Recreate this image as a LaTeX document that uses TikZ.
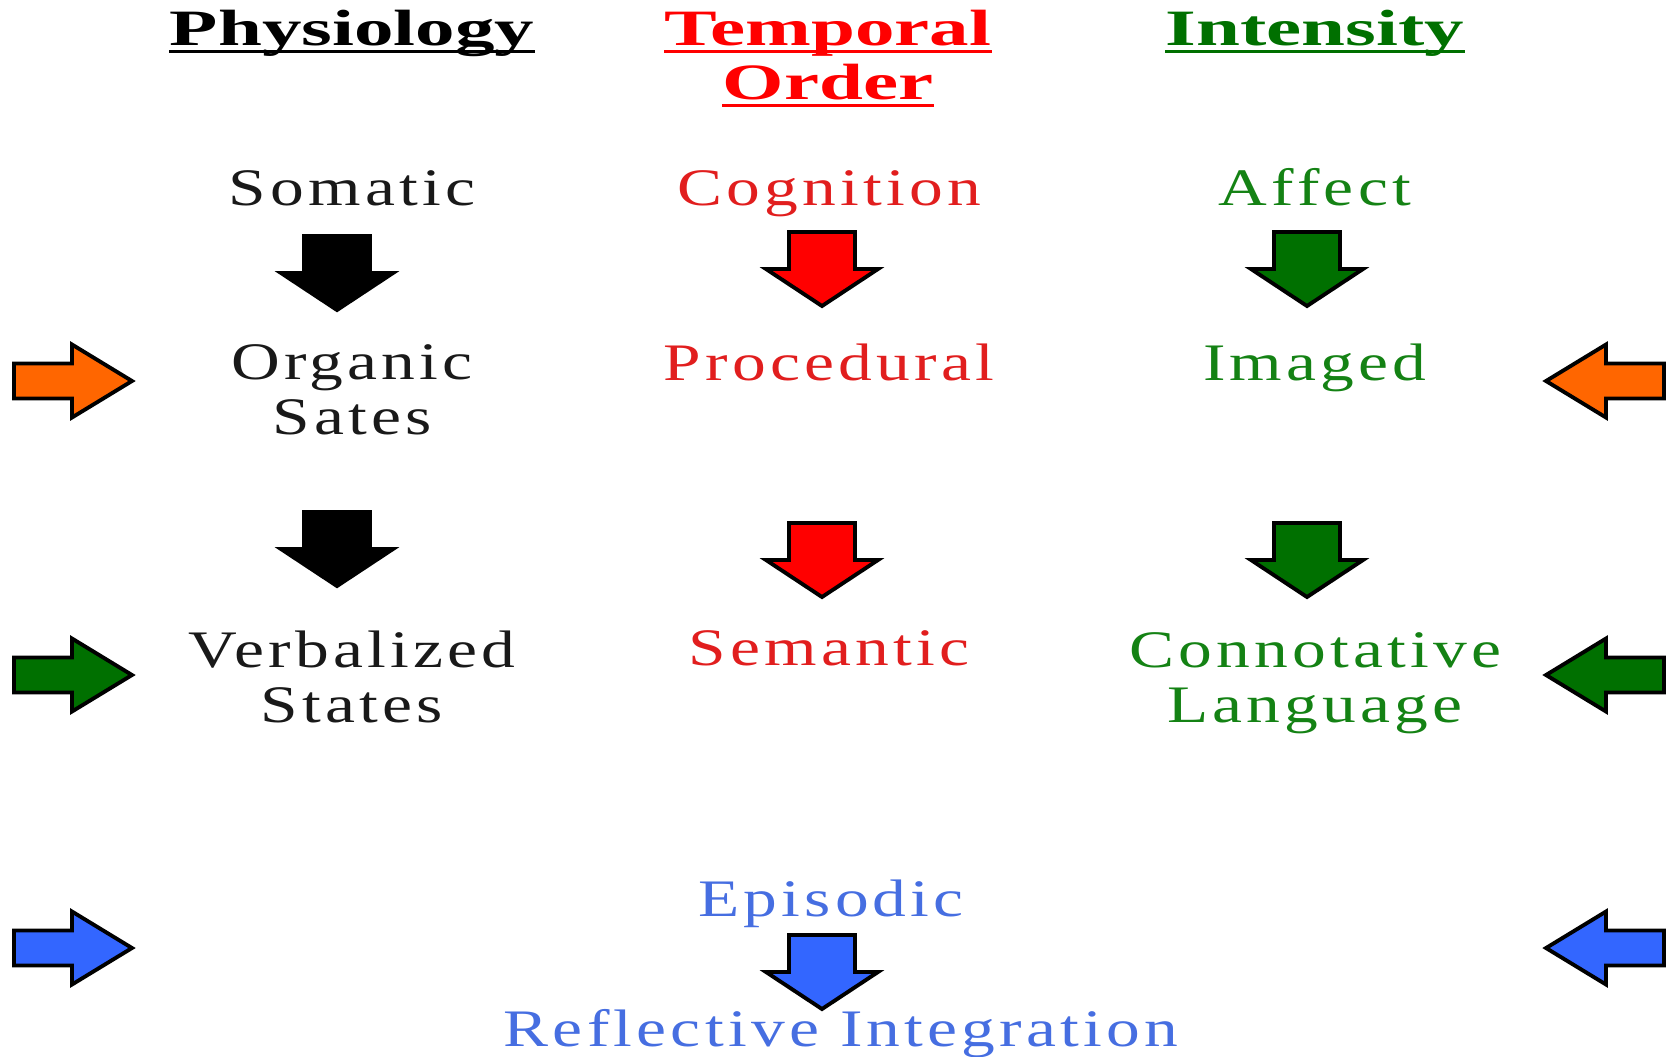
\documentclass[tikz,border=0pt]{standalone}
\usepackage{fontspec}
\usepackage{tikz}

\newfontfamily\headfont{Liberation Serif}[FakeStretch=1.55]
\newfontfamily\bodyfont{Liberation Serif}[FakeStretch=1.28, LetterSpace=8]

\definecolor{arrred}{RGB}{255,0,0}
\definecolor{arrgreen}{RGB}{0,112,0}
\definecolor{arrorange}{RGB}{255,102,0}
\definecolor{arrblue}{RGB}{51,102,255}
\definecolor{txtred}{RGB}{225,30,30}
\definecolor{txtgreen}{RGB}{20,130,20}
\definecolor{txtblue}{RGB}{70,110,225}
\definecolor{txtblack}{RGB}{25,25,25}

\tikzset{
    head/.style={font=\headfont\bfseries\fontsize{14.5}{17}\selectfont, inner sep=0pt, anchor=base},
    item/.style={font=\bodyfont\fontsize{15}{15.4}\selectfont, inner sep=0pt, anchor=base, align=center},
    pics/downarr/.style={code={
        \filldraw[fill=#1, draw=black, line width=1.1pt]
            (-0.33, 0.37) -- (0.33, 0.37) -- (0.33, 0)
            -- (0.56, 0) -- (0, -0.37) -- (-0.56, 0)
            -- (-0.33, 0) -- cycle;
    }},
    pics/sidearr/.style={code={
        \filldraw[fill=#1, draw=black, line width=1.1pt]
            (-0.58, 0.175) -- (0, 0.175) -- (0, 0.365)
            -- (0.6, 0) -- (0, -0.365) -- (0, -0.175)
            -- (-0.58, -0.175) -- cycle;
    }},
}

\begin{document}
\begin{tikzpicture}
    \useasboundingbox (0, 0) rectangle (16.66, -10.56);

    % headings
    \node[head, text=black] (phys) at (3.52, -0.45) {Physiology};
    \node[head, text=arrred] (temp) at (8.28, -0.45) {Temporal};
    \node[head, text=arrred] (order) at (8.28, -0.99) {Order};
    \node[head, text=arrgreen] (inten) at (13.15, -0.45) {Intensity};
    \foreach \n/\c in {phys/black, temp/arrred, order/arrred, inten/arrgreen} {
        \draw[\c, line width=0.9pt]
            ([yshift=-1.8pt]\n.base west) -- ([yshift=-1.8pt]\n.base east);
    }

    % first row
    \node[item, text=txtblack] (soma) at (3.52, -2.05) {Somatic};
    \node[item, text=txtred] (cogn) at (8.29, -2.05) {Cognition};
    \node[item, text=txtgreen] (affe) at (13.15, -2.05) {Affect};

    % second row
    \node[item, text=txtblack] (orga) at (3.52, -4.34) {Organic\\Sates};
    \node[item, text=txtred] (proc) at (8.29, -3.80) {Procedural};
    \node[item, text=txtgreen] (imag) at (13.15, -3.80) {Imaged};

    % third row
    \node[item, text=txtblack] (verb) at (3.52, -7.22) {Verbalized\\States};
    \node[item, text=txtred] (sema) at (8.29, -6.65) {Semantic};
    \node[item, text=txtgreen] (conn) at (13.15, -7.22) {Connotative\\Language};

    % bottom
    \node[item, text=txtblue] (epis) at (8.31, -9.16) {Episodic};
    \node[item, text=txtblue] (refl) at (8.41, -10.46) {Reflective Integration};

    % down arrows
    \pic at (3.37, -2.73) {downarr=black};
    \pic at (8.22, -2.69) {downarr=arrred};
    \pic at (13.07, -2.69) {downarr=arrgreen};
    \pic at (3.37, -5.49) {downarr=black};
    \pic at (8.22, -5.60) {downarr=arrred};
    \pic at (13.07, -5.60) {downarr=arrgreen};
    \pic at (8.22, -9.72) {downarr=arrblue};

    % side arrows
    \foreach \y/\c in {-3.81/arrorange, -6.75/arrgreen, -9.48/arrblue} {
        \pic at (0.72, \y) {sidearr=\c};
        \pic[xscale=-1] at (16.06, \y) {sidearr=\c};
    }
\end{tikzpicture}
\end{document}
